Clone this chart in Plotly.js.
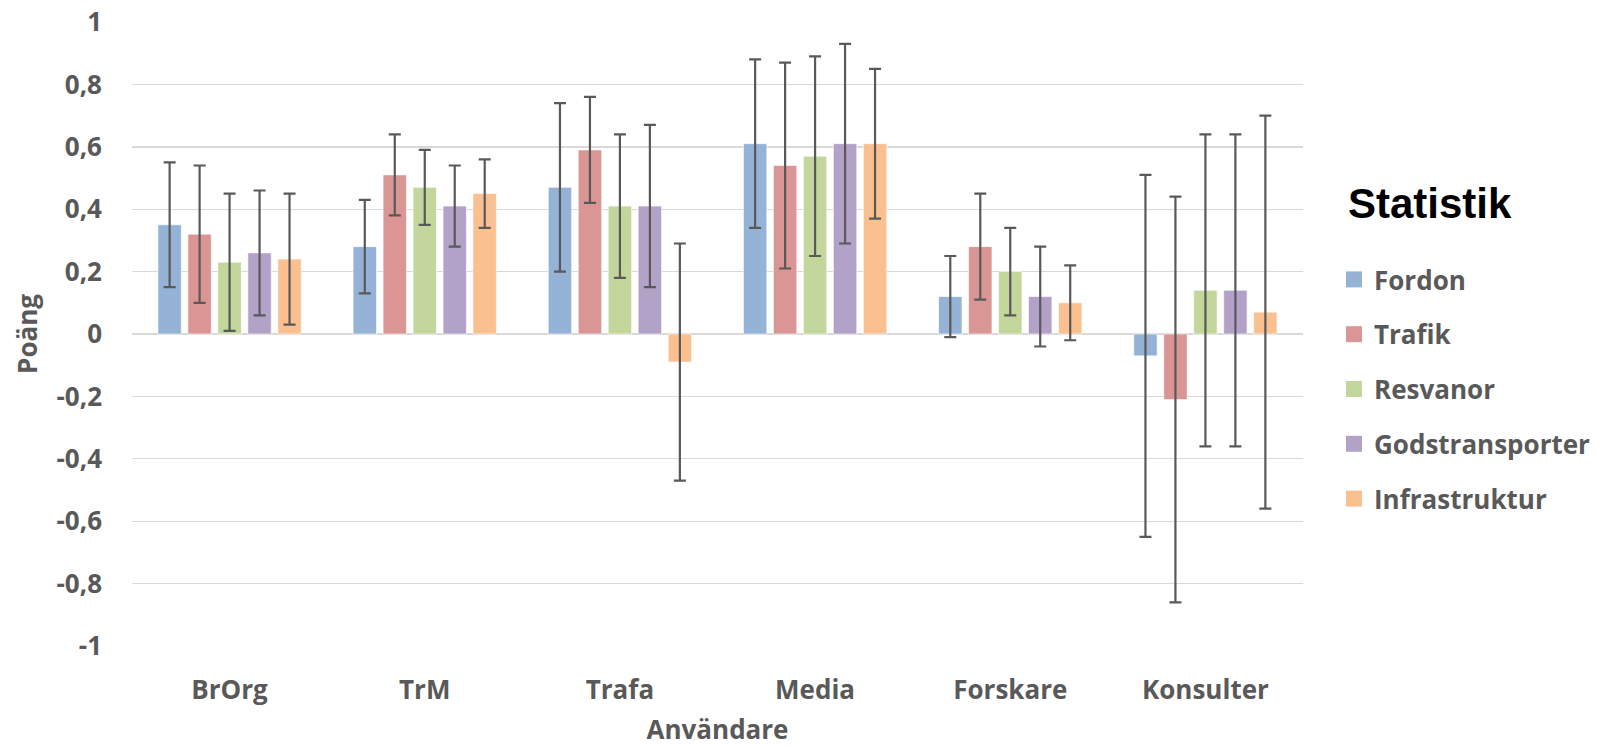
<!DOCTYPE html>
<html>
<head>
<meta charset="utf-8">
<script src="https://cdn.plot.ly/plotly-3.0.1.min.js"></script>
<style>html,body{margin:0;padding:0;background:#fff;}#chart{width:1608px;height:747px;}</style>
</head>
<body>
<div id="chart"></div>
<script>
const categories = ['BrOrg', 'TrM', 'Trafa', 'Media', 'Forskare', 'Konsulter'];
const seriesNames = ['Fordon', 'Trafik', 'Resvanor', 'Godstransporter', 'Infrastruktur'];
const fordon = [0.35, 0.28, 0.47, 0.61, 0.12, -0.07];
const fordonErr = [0.20, 0.15, 0.27, 0.27, 0.13, 0.58];
const trafik = [0.32, 0.51, 0.59, 0.54, 0.28, -0.21];
const trafikErr = [0.22, 0.13, 0.17, 0.33, 0.17, 0.65];
const resvanor = [0.23, 0.47, 0.41, 0.57, 0.20, 0.14];
const resvanorErr = [0.22, 0.12, 0.23, 0.32, 0.14, 0.50];
const godstransporter = [0.26, 0.41, 0.41, 0.61, 0.12, 0.14];
const godstransporterErr = [0.20, 0.13, 0.26, 0.32, 0.16, 0.50];
const infrastruktur = [0.24, 0.45, -0.09, 0.61, 0.10, 0.07];
const infrastrukturErr = [0.21, 0.11, 0.38, 0.24, 0.12, 0.63];
const yTickVals = [-1, -0.8, -0.6, -0.4, -0.2, 0, 0.2, 0.4, 0.6, 0.8, 1];
const yTickText = ['-1', '-0,8', '-0,6', '-0,4', '-0,2', '0', '0,2', '0,4', '0,6', '0,8', '1'];
const legendTitle = 'Statistik';
const colors = ['#95B3D7', '#D99694', '#C3D69B', '#B3A2C7', '#FAC090'];

const values = [fordon, trafik, resvanor, godstransporter, infrastruktur];
const errors = [fordonErr, trafikErr, resvanorErr, godstransporterErr, infrastrukturErr];

const FONT = 'Open Sans, Noto Sans, sans-serif';
const GREY = '#595959';

const traces = [];
seriesNames.forEach((name, i) => {
  traces.push({
    type: 'bar', name: name, x: categories, y: values[i],
    marker: {color: colors[i], line: {color: 'rgba(255,255,255,0.6)', width: 1}},
    error_y: {type: 'data', array: errors[i], visible: true, color: GREY, thickness: 2.2, width: 6},
    showlegend: false, hoverinfo: 'x+y'
  });
});
seriesNames.forEach((name, i) => {
  traces.push({
    type: 'scatter', mode: 'markers', name: name, x: [null], y: [null],
    legendgroup: 'g' + i,
    marker: {symbol: 'square', size: 16, color: colors[i]},
    hoverinfo: 'skip'
  });
});

const layout = {
  width: 1608, height: 747,
  paper_bgcolor: '#fff', plot_bgcolor: '#fff',
  margin: {l: 132, r: 305, t: 22, b: 101},
  barmode: 'group', bargap: 0.232, bargroupgap: 0.22,
  font: {family: FONT, color: GREY, size: 26, weight: 'bold'},
  xaxis: {
    type: 'category', showgrid: false, zeroline: false, showline: false, ticks: '',
    tickfont: {family: FONT, size: 26, color: GREY, weight: 'bold'},
    ticklabelstandoff: 26,
    title: {text: 'Användare', font: {family: FONT, size: 26, color: GREY, weight: 'bold'}, standoff: 16},
    automargin: false
  },
  yaxis: {
    range: [-1, 1], tickvals: yTickVals, ticktext: yTickText,
    showgrid: true, gridcolor: '#D9D9D9', gridwidth: 1.4,
    zeroline: true, zerolinecolor: '#D9D9D9', zerolinewidth: 1.4,
    showline: false, ticks: '',
    tickfont: {family: FONT, size: 26, color: GREY, weight: 'bold'},
    ticklabelstandoff: 29,
    title: {text: 'Poäng', font: {family: FONT, size: 26, color: GREY, weight: 'bold'}, standoff: 11},
    automargin: false
  },
  legend: {
    xref: 'container', yref: 'container',
    x: 1334 / 1608, xanchor: 'left',
    y: 1 - 256 / 747, yanchor: 'top',
    tracegroupgap: 18,
    font: {family: FONT, size: 26, color: GREY, weight: 'bold'},
    bgcolor: 'rgba(0,0,0,0)'
  },
  annotations: [{
    xref: 'paper', yref: 'paper',
    x: (1346 - 132) / (1608 - 132 - 305), xanchor: 'left',
    y: 1 - (203 - 22) / (747 - 22 - 101), yanchor: 'middle',
    text: legendTitle, showarrow: false,
    font: {family: 'Liberation Sans, Arial, sans-serif', size: 42, color: '#000', weight: 'bold'}
  }],
  showlegend: true
};

Plotly.newPlot('chart', traces, layout, {displayModeBar: false, staticPlot: true});
</script>
</body>
</html>
